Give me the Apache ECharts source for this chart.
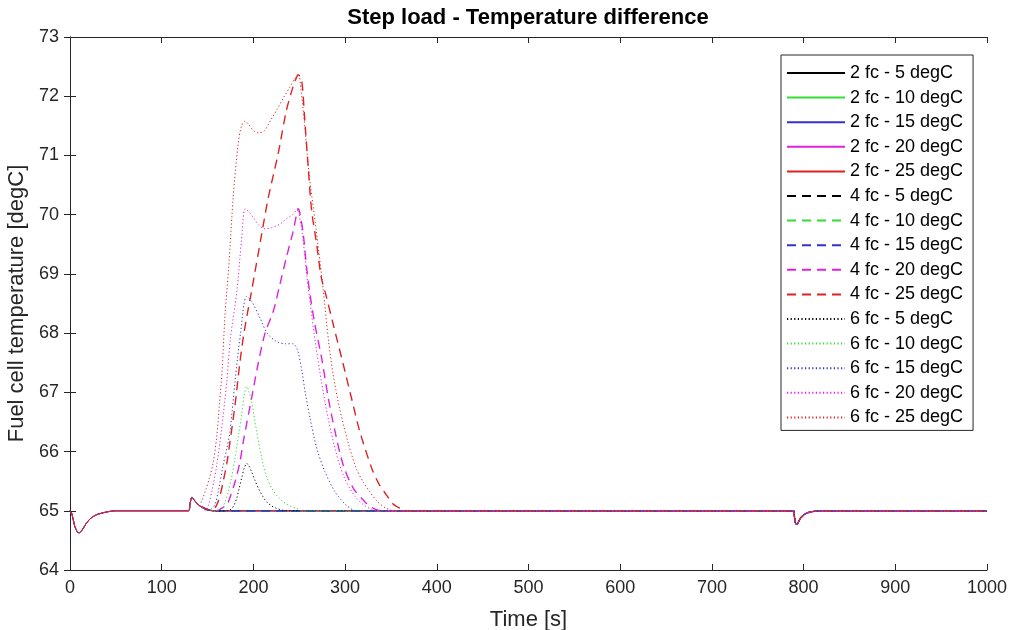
<!DOCTYPE html>
<html>
<head>
<meta charset="utf-8">
<script src="https://cdn.jsdelivr.net/npm/echarts@6/dist/echarts.min.js"></script>
<style>html,body{margin:0;padding:0;background:#fff}#c{width:1011px;height:630px}</style>
</head>
<body>
<div id="c"></div>
<script>
// ---- data ----
const titleText = 'Step load - Temperature difference';
const xName = 'Time [s]';
const yName = 'Fuel cell temperature [degC]';
const xTicks = [0, 100, 200, 300, 400, 500, 600, 700, 800, 900, 1000];
const yTicks = [64, 65, 66, 67, 68, 69, 70, 71, 72, 73];

const seriesNames = [
  '2 fc - 5 degC', '2 fc - 10 degC', '2 fc - 15 degC', '2 fc - 20 degC', '2 fc - 25 degC',
  '4 fc - 5 degC', '4 fc - 10 degC', '4 fc - 15 degC', '4 fc - 20 degC', '4 fc - 25 degC',
  '6 fc - 5 degC', '6 fc - 10 degC', '6 fc - 15 degC', '6 fc - 20 degC', '6 fc - 25 degC'
];

// common baseline (start dip, load step spike at 130 s, dip at 790 s)
const baseT = [0, 2, 5, 8, 10, 13, 17, 21, 25, 30, 40, 50, 129, 131, 133, 136, 140, 144, 148, 152, 156, 789, 790, 791, 792.5, 794, 796, 798, 802, 807, 815, 825, 1000];
const baseV = [65, 64.95, 64.75, 64.64, 64.63, 64.67, 64.77, 64.85, 64.9, 64.94, 64.98, 65.0, 65.0, 65.13, 65.23, 65.17, 65.1, 65.06, 65.03, 65.01, 65.0, 65.0, 64.9, 64.8, 64.77, 64.8, 64.86, 64.9, 64.95, 64.98, 64.995, 65.0, 65.0];
const lateStart = 142; // 4 fc and 6 fc runs appear from here on

// humps (time, value)
const h4fc20T = [160, 165, 171, 175, 180, 185, 189, 198, 205, 212.7, 221.7, 229, 236, 243.5, 247, 249, 251, 254.4, 258, 261.7, 267, 274.4, 281.7, 289, 298, 309, 321.7, 331, 340];
const h4fc20V = [65.0, 65.04, 65.1, 65.25, 65.49, 65.8, 66.17, 66.9, 67.47, 68.0, 68.37, 68.83, 69.28, 69.73, 70.0, 70.1, 70.0, 69.67, 69.11, 68.66, 68.15, 67.58, 66.9, 66.34, 65.77, 65.38, 65.15, 65.04, 65.0];

const h4fc25T = [155, 160, 164, 167, 171, 174.5, 180, 185, 190, 198, 209, 216, 227, 236, 243, 246, 249, 252.6, 256, 260, 263.5, 269, 274, 279, 287, 298, 307, 316, 329, 337, 345, 352, 360, 366];
const h4fc25V = [65.0, 65.1, 65.28, 65.49, 65.8, 66.17, 66.79, 67.47, 68.03, 68.71, 69.67, 70.27, 71.03, 71.76, 72.15, 72.28, 72.36, 72.27, 71.6, 70.75, 70.07, 69.5, 68.94, 68.65, 68.15, 67.47, 66.9, 66.34, 65.72, 65.45, 65.27, 65.12, 65.04, 65.0];

const h6fc5T = [172, 176, 179, 181.8, 184.5, 187.2, 190, 192.7, 195, 198, 201.5, 205.4, 210, 214.5, 220, 225.4, 232, 238];
const h6fc5V = [65.0, 65.03, 65.1, 65.21, 65.38, 65.55, 65.72, 65.8, 65.76, 65.66, 65.52, 65.38, 65.25, 65.15, 65.08, 65.04, 65.01, 65.0];

const h6fc10T = [158, 162, 165.4, 169, 172.6, 176, 180, 184, 187.2, 190, 192.7, 195, 198, 203.5, 210.8, 215, 220, 226, 232.6, 240, 247, 252];
const h6fc10V = [65.0, 65.02, 65.04, 65.15, 65.32, 65.55, 65.89, 66.3, 66.62, 66.95, 67.1, 67.02, 66.85, 66.34, 65.77, 65.55, 65.38, 65.25, 65.15, 65.08, 65.04, 65.0];

const h6fc15T = [150, 155, 158, 162, 167, 171, 174.5, 180, 186, 192.5, 198, 207, 215, 225, 235, 243, 248, 253, 257, 262, 269, 278, 289, 301, 312];
const h6fc15V = [65.0, 65.04, 65.1, 65.35, 65.77, 66.05, 66.34, 67.19, 68.0, 68.62, 68.54, 68.26, 68.0, 67.86, 67.82, 67.82, 67.72, 67.35, 66.95, 66.55, 66.06, 65.66, 65.32, 65.1, 65.0];

const h6fc20T = [148, 151, 155, 160, 165, 171, 175, 182, 187, 191, 195, 200, 206, 213, 220, 229, 236, 243.5, 248, 251, 254, 258, 262, 267, 274, 281, 289, 298, 309, 320, 330, 338];
const h6fc20V = [65.0, 65.1, 65.35, 65.77, 66.34, 67.19, 67.92, 68.71, 69.56, 70.1, 70.05, 69.95, 69.82, 69.76, 69.78, 69.84, 69.93, 70.01, 70.1, 69.9, 69.6, 69.0, 68.5, 67.9, 67.2, 66.6, 66.05, 65.6, 65.28, 65.1, 65.02, 65.0];

const h6fc25T = [141, 144, 148, 152, 156, 160, 163, 166, 169, 173, 178, 183, 187, 191, 195, 200, 206, 212, 219, 226, 233, 240, 245, 249, 252, 256, 261, 268, 276, 282, 287, 294, 303, 312, 320, 327, 335, 345, 355];
const h6fc25V = [65.08, 65.18, 65.35, 65.55, 65.8, 66.25, 66.8, 67.4, 68.3, 69.1, 70.3, 71.15, 71.5, 71.58, 71.52, 71.42, 71.38, 71.42, 71.6, 71.78, 71.98, 72.16, 72.3, 72.38, 72.1, 71.5, 70.65, 69.8, 68.75, 67.86, 67.3, 66.73, 66.17, 65.72, 65.48, 65.32, 65.16, 65.04, 65.0];

// ---- build series ----
const colors = ['#000000', '#33dd33', '#3333cc', '#dd22dd', '#dd2222'];
function pairs(T, V) { return T.map((t, i) => [t, V[i]]); }
function build(late, hT, hV) {
  let base = pairs(baseT, baseV);
  if (late) base = base.filter(p => p[0] >= lateStart);
  if (!hT) return base;
  const a = hT[0], b = hT[hT.length - 1];
  const out = base.filter(p => p[0] < a || p[0] > b).concat(pairs(hT, hV));
  out.sort((p, q) => p[0] - q[0]);
  return out;
}
const humps = {
  '4 fc - 20 degC': [h4fc20T, h4fc20V],
  '4 fc - 25 degC': [h4fc25T, h4fc25V],
  '6 fc - 5 degC': [h6fc5T, h6fc5V],
  '6 fc - 10 degC': [h6fc10T, h6fc10V],
  '6 fc - 15 degC': [h6fc15T, h6fc15V],
  '6 fc - 20 degC': [h6fc20T, h6fc20V],
  '6 fc - 25 degC': [h6fc25T, h6fc25V]
};

const series = seriesNames.map((name, i) => {
  const group = Math.floor(i / 5);
  const h = humps[name];
  const type = group === 0 ? 'solid' : (group === 1 ? [9, 6] : [1.2, 2.4]);
  const width = group === 1 ? 1.4 : 1;
  return {
    name: name,
    type: 'line',
    xAxisIndex: 0, yAxisIndex: 0,
    data: build(group > 0, h && h[0], h && h[1]),
    showSymbol: false,
    symbol: 'none',
    smooth: 0.3,
    animation: false,
    lineStyle: { color: colors[i % 5], width: width, type: type },
    itemStyle: { color: colors[i % 5] },
    emphasis: { disabled: true }
  };
});

const font = '"Liberation Sans", Arial, Helvetica, sans-serif';
const chart = echarts.init(document.getElementById('c'), null, { renderer: 'canvas' });
chart.setOption({
  animation: false,
  backgroundColor: '#ffffff',
  graphic: [{
    type: 'text', x: 528, y: 18,
    style: { text: titleText, textAlign: 'center', textVerticalAlign: 'middle', font: 'bold 22px ' + font, fill: '#000' }
  }],
  grid: { left: 70, right: 24, top: 37, bottom: 60, containLabel: false, outerBoundsMode: 'none' },
  legend: {
    orient: 'vertical',
    left: 781, top: 55,
    data: seriesNames,
    itemWidth: 58, itemHeight: 14, itemGap: 6.6,
    padding: [9, 10, 4, 5],
    borderColor: '#262626', borderWidth: 1, backgroundColor: '#fff',
    itemStyle: { opacity: 0 },
    textStyle: { fontFamily: font, fontSize: 18, color: '#000' },
    selectedMode: false
  },
  xAxis: [{
    type: 'value', min: 0, max: 1000, interval: 100,
    name: xName, nameLocation: 'middle', nameGap: 39,
    nameTextStyle: { fontFamily: font, fontSize: 22, color: '#262626' },
    axisLine: { show: true, lineStyle: { color: '#262626', width: 1 } },
    axisTick: { show: true, inside: true, length: 6, lineStyle: { color: '#262626' } },
    axisLabel: { fontFamily: font, fontSize: 18, color: '#262626', margin: 9, formatter: v => String(v) },
    splitLine: { show: false }
  }, {
    type: 'value', position: 'top', min: 0, max: 1000, interval: 100,
    axisLine: { show: true, lineStyle: { color: '#262626', width: 1 } },
    axisTick: { show: true, inside: true, length: 6, lineStyle: { color: '#262626' } },
    axisLabel: { show: false }, splitLine: { show: false }
  }],
  yAxis: [{
    type: 'value', min: 64, max: 73, interval: 1,
    name: yName, nameLocation: 'middle', nameGap: 36,
    nameTextStyle: { fontFamily: font, fontSize: 22, color: '#262626' },
    axisLine: { show: true, lineStyle: { color: '#262626', width: 1 } },
    axisTick: { show: true, inside: true, length: 6, lineStyle: { color: '#262626' } },
    axisLabel: { fontFamily: font, fontSize: 18, color: '#262626', margin: 11, formatter: v => String(v) },
    splitLine: { show: false }
  }, {
    type: 'value', position: 'right', min: 64, max: 73, interval: 1,
    axisLine: { show: true, lineStyle: { color: '#262626', width: 1 } },
    axisTick: { show: true, inside: true, length: 6, lineStyle: { color: '#262626' } },
    axisLabel: { show: false }, splitLine: { show: false }
  }],
  series: series
});
</script>
</body>
</html>
